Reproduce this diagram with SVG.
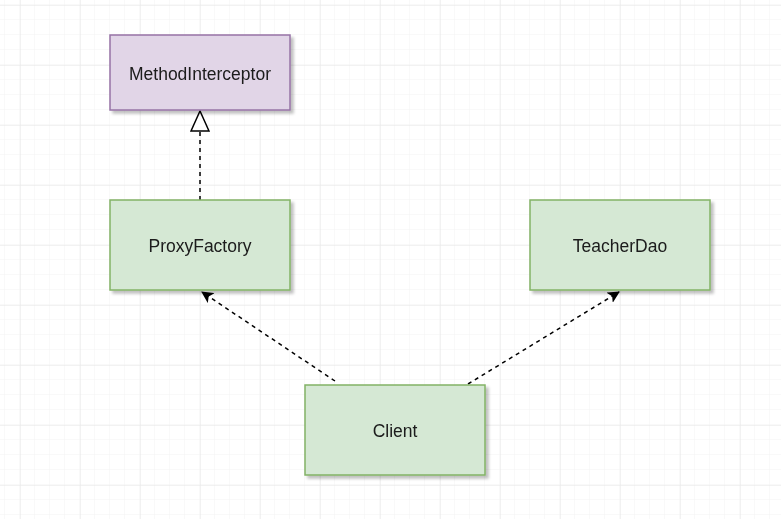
<svg xmlns="http://www.w3.org/2000/svg" width="781" height="519" viewBox="0 0 781 519">
<defs>
<pattern id="minor" x="5" y="5" width="15" height="15" patternUnits="userSpaceOnUse">
<path d="M15 0V15M0 15H15" fill="none" stroke="#f3f3f3" stroke-width="1"/>
</pattern>
<pattern id="major" x="20" y="5" width="60" height="60" patternUnits="userSpaceOnUse">
<path d="M0 0V60M0 0H60" fill="none" stroke="#e6e6e6" stroke-width="1"/>
</pattern>
<filter id="sh" x="-10%" y="-10%" width="130%" height="140%">
<feGaussianBlur in="SourceAlpha" stdDeviation="1.5"/>
<feOffset dx="3" dy="3" result="b"/>
<feComponentTransfer><feFuncA type="linear" slope="0.25"/></feComponentTransfer>
<feMerge><feMergeNode/><feMergeNode in="SourceGraphic"/></feMerge>
</filter>
<marker id="tri" viewBox="0 0 22 20" refX="21" refY="10" markerWidth="22" markerHeight="20" markerUnits="userSpaceOnUse" orient="auto">
<path d="M1 1L21 10L1 19Z" fill="#fff" stroke="#000" stroke-width="1.5"/>
</marker>
<marker id="arr" viewBox="0 0 12 12" refX="11" refY="6" markerWidth="12" markerHeight="12" markerUnits="userSpaceOnUse" orient="auto">
<path d="M0 0L12 6L0 12L3 6Z" fill="#000"/>
</marker>
</defs>
<style>
.p{fill:#e1d5e7;stroke:#9673a6;stroke-width:1.5}
.g{fill:#d5e8d4;stroke:#82b366;stroke-width:1.5}
text{font-family:"Liberation Sans",Arial,sans-serif;font-size:17.5px;fill:#1a1a1a;text-anchor:middle;dominant-baseline:central}
.c{fill:none;stroke:#000;stroke-width:1.5;stroke-dasharray:4 4}
</style>
<rect width="781" height="519" fill="#fff"/>
<rect width="781" height="519" fill="url(#minor)"/>
<rect width="781" height="519" fill="url(#major)"/>
<g id="connectors">
<path class="c" d="M200 200V111" marker-end="url(#tri)"/>
<path class="c" d="M335 381L202 292" marker-end="url(#arr)"/>
<path class="c" d="M468 384L619 292" marker-end="url(#arr)"/>
</g>
<g id="methodinterceptor" filter="url(#sh)">
<rect class="p" x="110" y="35" width="180" height="75"/>
<text x="200" y="74">MethodInterceptor</text>
</g>
<g id="proxyfactory" filter="url(#sh)">
<rect class="g" x="110" y="200" width="180" height="90"/>
<text x="200" y="246">ProxyFactory</text>
</g>
<g id="teacherdao" filter="url(#sh)">
<rect class="g" x="530" y="200" width="180" height="90"/>
<text x="620" y="246">TeacherDao</text>
</g>
<g id="client" filter="url(#sh)">
<rect class="g" x="305" y="385" width="180" height="90"/>
<text x="395" y="431">Client</text>
</g>
</svg>
